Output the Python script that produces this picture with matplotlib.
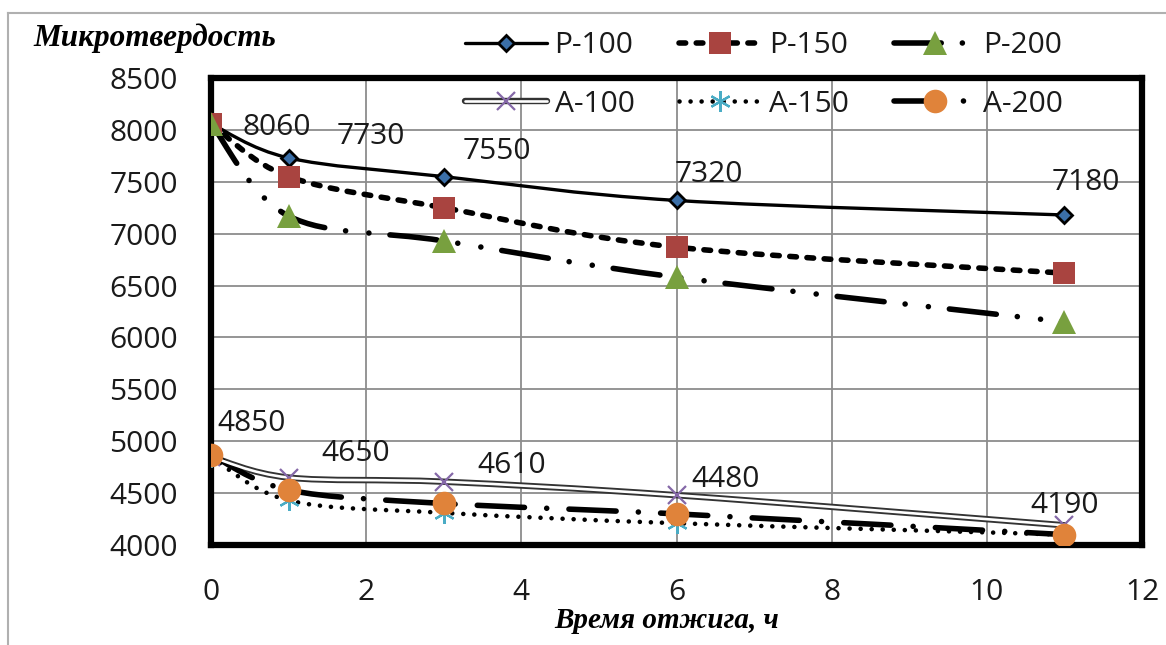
import matplotlib
matplotlib.use("Agg")
import matplotlib.pyplot as plt
import numpy as np
from matplotlib.path import Path
from matplotlib.patches import PathPatch
from matplotlib.lines import Line2D
from matplotlib.legend_handler import HandlerTuple

# ---------------- data ----------------
hours = [0, 1, 3, 6, 11]
p100 = [8060, 7730, 7550, 7320, 7180]
p150 = [8060, 7550, 7250, 6870, 6620]
p200 = [8060, 7170, 6930, 6580, 6150]
a100 = [4850, 4650, 4610, 4480, 4190]
a150 = [4850, 4430, 4310, 4210, 4100]
a200 = [4870, 4530, 4400, 4300, 4100]
series_names = ["Р-100", "Р-150", "Р-200", "А-100", "А-150", "А-200"]
y_ticks = [4000, 4500, 5000, 5500, 6000, 6500, 7000, 7500, 8000, 8500]
x_ticks = [0, 2, 4, 6, 8, 10, 12]
title_text = "Микротвердость"
xlabel_text = "Время отжига, ч"

# label offsets in pixels (dx, dy) for the data labels of Р-100 and А-100
p100_label_off = [(66, -4), (82, 21), (53, 25), (32, 26), (21, 32)]
a100_label_off = [(41, 33), (67, 24), (68, 16), (49, 16), (0, 20)]

W, H = 1166, 645
fig = plt.figure(figsize=(W / 100, H / 100), dpi=100)
fig.patch.set_facecolor("white")

L, R, T, B = 211, 1142, 78, 545
ax = fig.add_axes([L / W, 1 - B / H, (R - L) / W, (B - T) / H])

tick_font = "Open Sans"
fs = 21.5


def smooth_path(x, y):
    pts = np.column_stack([x, y]).astype(float)
    n = len(pts)
    verts = [pts[0]]
    codes = [Path.MOVETO]
    for i in range(n - 1):
        p0 = pts[i - 1] if i > 0 else pts[i]
        p1 = pts[i]
        p2 = pts[i + 1]
        p3 = pts[i + 2] if i + 2 < n else pts[i + 1]
        c1 = p1 + (p2 - p0) / 6.0
        c2 = p2 - (p3 - p1) / 6.0
        verts += [c1, c2, p2]
        codes += [Path.CURVE4] * 3
    return Path(verts, codes)


styles = [
    dict(color="black", lw=2.4, ls="-"),
    dict(color="black", lw=4.0, ls=(0, (1.2, 1.9))),
    dict(color="black", lw=4.0, ls=(0, (8.5, 3.8, 0.01, 4.2, 0.01, 3.8))),
    None,  # double line
    dict(color="black", lw=3.3, ls=(0, (0.01, 2.4))),
    dict(color="black", lw=4.0, ls=(0, (8.5, 4.0, 0.01, 4.0))),
]
markers = [
    dict(marker="D", ms=8, mfc="#3B6FA8", mec="black", mew=2.0),
    dict(marker="s", ms=16, mfc="#A94440", mec="#A94440", mew=0),
    dict(marker="^", ms=17, mfc="#78A03F", mec="#78A03F", mew=0),
    dict(marker="x", ms=13, mfc="#8568A8", mec="#8568A8", mew=1.6),
    dict(marker=(6, 2, 0), ms=15, mfc="#4AACC5", mec="#4AACC5", mew=1.6),
    dict(marker="o", ms=17, mfc="#E0833A", mec="#E0833A", mew=0),
]
all_series = [p100, p150, p200, a100, a150, a200]

handles = []
for i, ys in enumerate(all_series):
    path = smooth_path(hours, ys)
    if styles[i] is None:
        ax.add_patch(PathPatch(path, fill=False, edgecolor="#333333", lw=4.6,
                               capstyle="round", joinstyle="round", zorder=3))
        ax.add_patch(PathPatch(path, fill=False, edgecolor="white", lw=1.9,
                               capstyle="round", joinstyle="round", zorder=3.01))
        lh = (Line2D([], [], color="#333333", lw=4.6, solid_capstyle="round"),
              Line2D([], [], color="white", lw=1.9, solid_capstyle="round"))
    else:
        st = styles[i]
        ax.add_patch(PathPatch(path, fill=False, edgecolor=st["color"], lw=st["lw"],
                               linestyle=st["ls"], capstyle="round",
                               joinstyle="round", zorder=3))
        lh = (Line2D([], [], color=st["color"], lw=st["lw"], linestyle=st["ls"],
                     dash_capstyle="round", solid_capstyle="round"),)
    mk = markers[i]
    ax.plot(hours, ys, linestyle="none", zorder=4 + i * 0.01, **mk)
    mh = Line2D([], [], linestyle="none", **mk)
    handles.append(lh + (mh,))

# data labels
for xs, ys, offs in [(hours, p100, p100_label_off), (hours, a100, a100_label_off)]:
    for x, y, (dx, dy) in zip(xs, ys, offs):
        ax.annotate(f"{y}", (x, y), xytext=(dx, dy), textcoords="offset pixels",
                    ha="center", va="center", fontsize=fs, family=tick_font,
                    color="#1a1a1a", zorder=6)

ax.set_xlim(0, 12)
ax.set_ylim(4000, 8500)
ax.set_xticks(x_ticks)
ax.set_yticks(y_ticks)
ax.set_xticklabels([str(v) for v in x_ticks], family=tick_font, fontsize=fs, color="#1a1a1a")
ax.set_yticklabels([str(v) for v in y_ticks], family=tick_font, fontsize=fs, color="#1a1a1a")
ax.tick_params(axis="both", length=0)
ax.tick_params(axis="x", pad=24)
ax.tick_params(axis="y", pad=24)
ax.grid(True, color="#8C8C8C", lw=1.3, zorder=1)
ax.set_axisbelow(True)
for s in ax.spines.values():
    s.set_linewidth(4.5)
    s.set_color("black")

# legend: matplotlib fills columns first
order = [0, 3, 1, 4, 2, 5]
leg = fig.legend([handles[k] for k in order], [series_names[k] for k in order],
                 handler_map={tuple: HandlerTuple(ndivide=1, pad=0)},
                 ncol=3, loc="upper left", bbox_to_anchor=(465 / W, 1 - 31 / H),
                 frameon=False, borderpad=0, borderaxespad=0,
                 handlelength=2.75, handletextpad=0.25, columnspacing=1.5,
                 labelspacing=1.0, numpoints=1,
                 prop=dict(family=tick_font, size=fs))
for t in leg.get_texts():
    t.set_color("#1a1a1a")

fig.text(33 / W, 1 - 38 / H, title_text, family="Liberation Serif",
         weight="bold", style="italic", fontsize=22.5, ha="left", va="center")
fig.text(667 / W, 1 - 621 / H, xlabel_text, family="Liberation Serif",
         weight="bold", style="italic", fontsize=21, ha="center", va="center")

# outer light border (top and left visible)
fig.add_artist(Line2D([8 / W, 1], [1 - 13 / H, 1 - 13 / H], color="#B0B0B0", lw=1.5,
                      transform=fig.transFigure))
fig.add_artist(Line2D([8 / W, 8 / W], [0, 1 - 13 / H], color="#B0B0B0", lw=1.5,
                      transform=fig.transFigure))

fig.savefig("out.png", dpi=100)
